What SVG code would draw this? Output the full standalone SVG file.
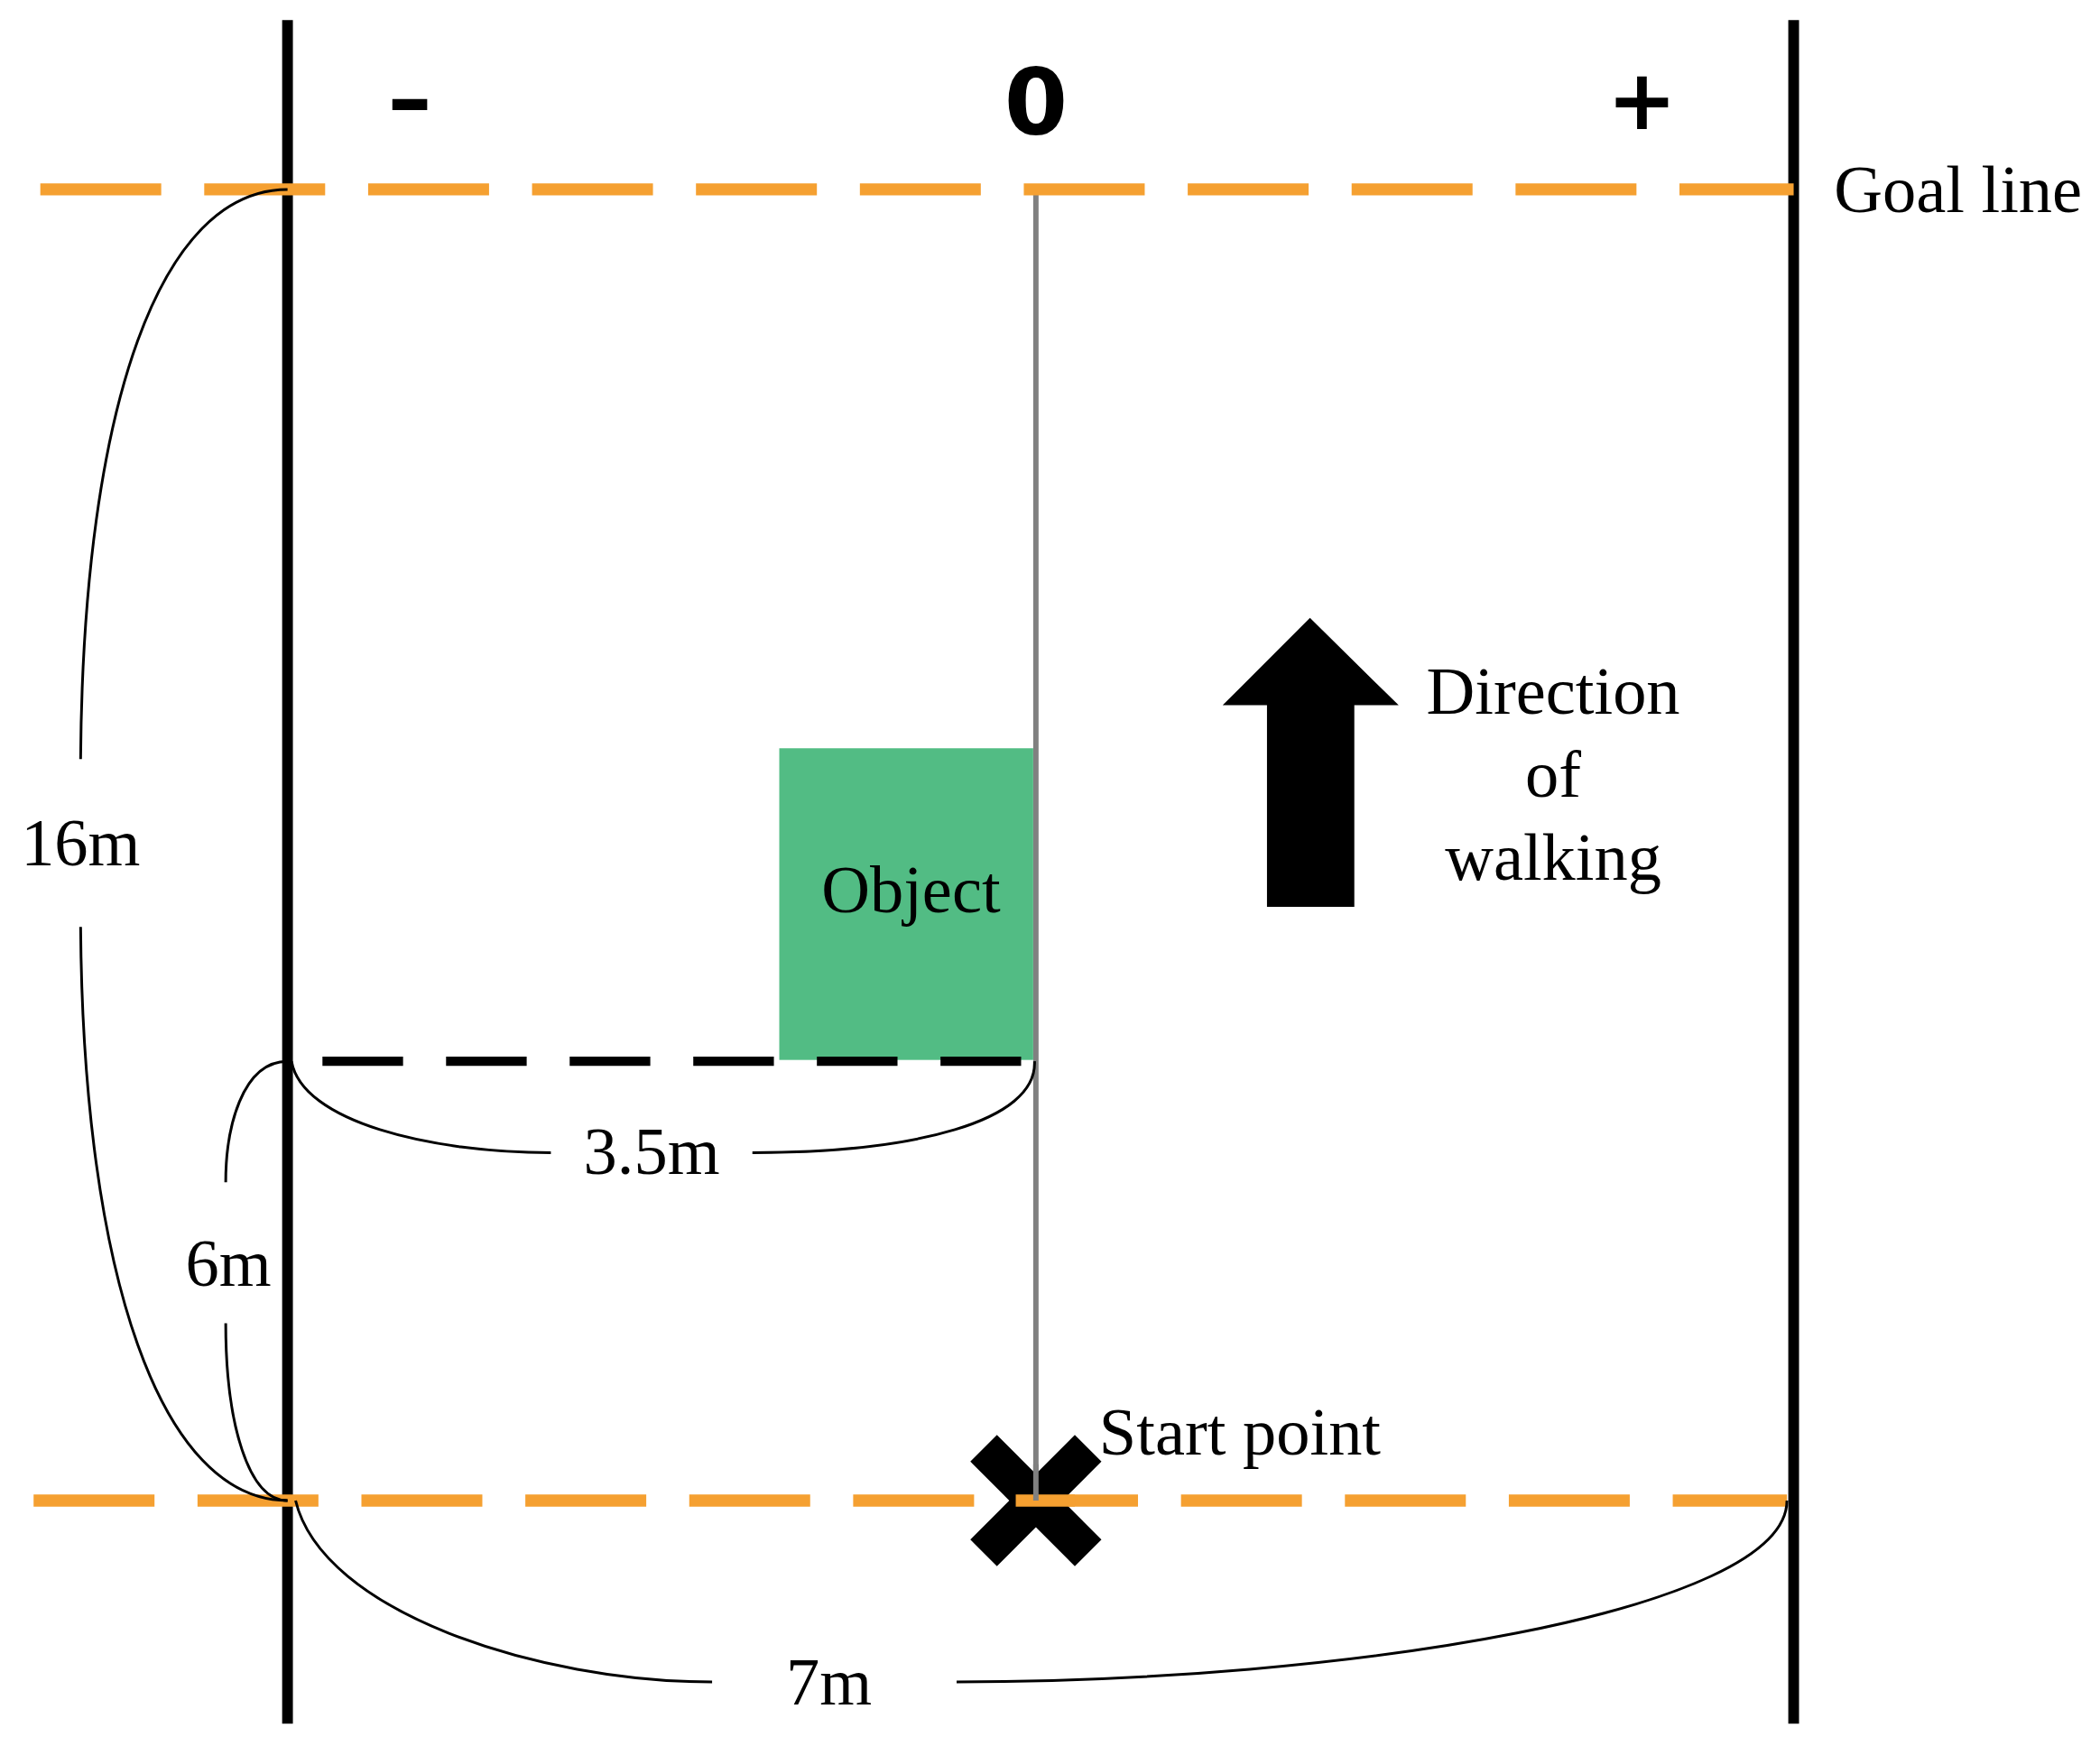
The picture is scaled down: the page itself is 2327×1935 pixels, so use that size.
<svg xmlns="http://www.w3.org/2000/svg" width="2327" height="1935" viewBox="0 0 2327 1935">
<style>
.ser{font-family:"Liberation Serif",serif;fill:#000;font-size:50px}
.sans{font-family:"DejaVu Sans","Liberation Sans",sans-serif;fill:#000}
.dim{fill:none;stroke:#000;stroke-width:2}
.orange{stroke:#F5A031;stroke-width:9;stroke-dasharray:90 32}
</style>
<rect width="2327" height="1935" fill="#fff"/>
<g transform="scale(1.4888)">
<g id="field">
<line x1="214" y1="15" x2="214" y2="1283" stroke="#000" stroke-width="8"/>
<line x1="1335" y1="15" x2="1335" y2="1283" stroke="#000" stroke-width="8"/>
<line x1="771" y1="141" x2="771" y2="1117" stroke="#808080" stroke-width="4"/>
</g>
<g id="object">
<rect x="580" y="557" width="189" height="232" fill="#52BC84"/>
<text x="678" y="679" class="ser" text-anchor="middle">Object</text>
</g>
<g id="goal-line">
<line x1="30" y1="141" x2="1335" y2="141" class="orange"/>
<text x="1365" y="158" class="ser">Goal line</text>
</g>
<g id="start-line">
<line x1="25" y1="1117" x2="1330" y2="1117" class="orange"/>
</g>
<g id="start">
<g transform="translate(771,1117) rotate(45)">
<rect x="-55" y="-14" width="110" height="28" fill="#000"/>
<rect x="-14" y="-55" width="28" height="110" fill="#000"/>
</g>
<line x1="756" y1="1117" x2="800" y2="1117" stroke="#F5A031" stroke-width="9"/>
<line x1="771" y1="1090" x2="771" y2="1117" stroke="#808080" stroke-width="4"/>
<text x="818" y="1083" class="ser">Start point</text>
</g>
<g id="axis-labels">
<text x="305" y="96" class="sans" font-size="66" font-weight="bold" text-anchor="middle">–</text>
<text x="771" y="100" class="sans" font-size="68" font-weight="bold" text-anchor="middle">0</text>
<text x="1222" y="96" class="sans" font-size="62" font-weight="bold" text-anchor="middle">+</text>
</g>
<g id="direction">
<polygon points="975,460 1041,525 1008,525 1008,675 943,675 943,525 910,525" fill="#000"/>
<text class="ser" text-anchor="middle"><tspan x="1156" y="531">Direction</tspan><tspan x="1156" y="593">of</tspan><tspan x="1156" y="655">walking</tspan></text>
</g>
<g id="connectors">
<line x1="240" y1="790" x2="770" y2="790" stroke="#000" stroke-width="7" stroke-dasharray="60 32"/>
<path class="dim" d="M214,141 C120,141 62,300 60,565"/>
<path class="dim" d="M60,690 C62,950 120,1117 214,1117"/>
<path class="dim" d="M214,790 C180,790 168,840 168,880"/>
<path class="dim" d="M168,985 C168,1060 185,1117 214,1117"/>
<path class="dim" d="M217,790 C225,835 320,858 410,858"/>
<path class="dim" d="M560,858 C680,858 772,835 770,790"/>
<path class="dim" d="M220,1117 C240,1200 400,1252 530,1252"/>
<path class="dim" d="M712,1252 C1000,1252 1330,1200 1330,1117"/>
</g>
<g id="dim-labels">
<text x="60" y="644" class="ser" text-anchor="middle">16m</text>
<text x="170" y="957" class="ser" text-anchor="middle">6m</text>
<text x="485" y="874" class="ser" text-anchor="middle">3.5m</text>
<text x="617" y="1269" class="ser" text-anchor="middle">7m</text>
</g>
</g>
</svg>
